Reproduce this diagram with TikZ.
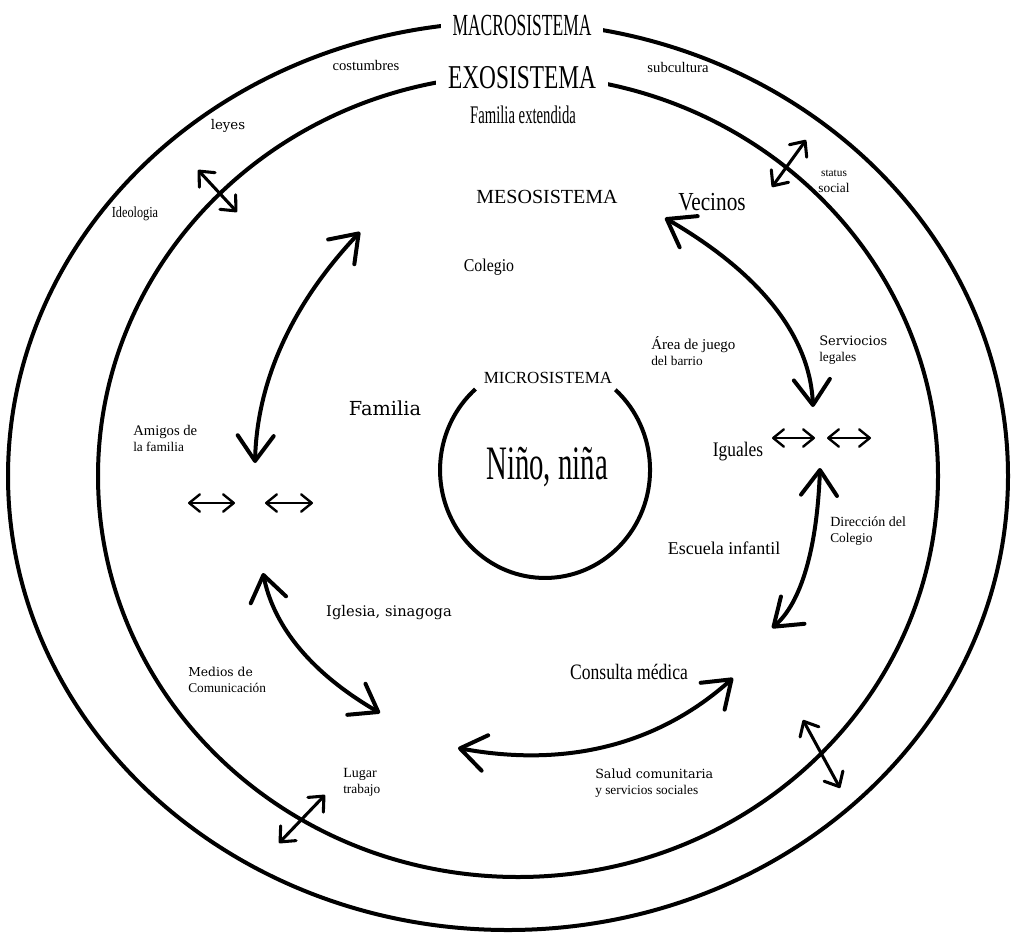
\documentclass[tikz,border=0pt]{standalone}
\usepackage{fontspec}
\setmainfont{Liberation Serif}
\newfontfamily\wideserif{DejaVu Serif}
\usetikzlibrary{arrows.meta}
\newcommand{\narrowtext}[2]{\scalebox{#1}[1]{#2}}

\begin{document}
\begin{tikzpicture}[x=0.75pt,y=0.75pt,yscale=-1,xscale=1,
  ring/.style={line width=3pt},
  bigarrow/.style={line width=3pt,line cap=round,{Straight Barb[length=19pt,width=27pt,round]}-{Straight Barb[length=19pt,width=27pt,round]}},
  crossarrow/.style={line width=2.3pt,line cap=round,{Straight Barb[length=9pt,width=16pt,round]}-{Straight Barb[length=9pt,width=16pt,round]}},
  linkarrow/.style={line width=1.8pt,{Straight Barb[length=8pt,width=13pt,round]}-{Straight Barb[length=8pt,width=13pt,round]}},
  lbl/.style={inner sep=0.75pt,align=left},
  sysname/.style={fill=white,inner xsep=9pt,inner ysep=3pt}
]
\useasboundingbox (0,0) rectangle (1016,935);

%Shape: Ellipse - macrosistema
\draw [ring] (508,476) ellipse (500 and 454);
%Shape: Ellipse - exosistema
\draw [ring] (518,476) ellipse (420 and 401);
%Shape: Arc - microsistema
\draw [ring] (615.3,389.7) arc [start angle=-48,end angle=228.5,x radius=105,y radius=108];

% Text Node
\draw (522,25) node (macro) [sysname] {\fontsize{23}{26}\selectfont\narrowtext{0.57}{MACROSISTEMA}};
% Text Node
\draw (522,78) node (exo) [sysname] {\fontsize{25}{28}\selectfont\narrowtext{0.7}{EXOSISTEMA}};
% Text Node
\draw (548,378) node (micro) [lbl] {\fontsize{12.75}{15}\selectfont MICROSISTEMA};
% Text Node
\draw (547,467) node (nino) [lbl] {\fontsize{36}{40}\selectfont\narrowtext{0.6}{Niño, niña}};
% Text Node
\draw (547,197) node (meso) [lbl] {\fontsize{15}{18}\selectfont MESOSISTEMA};
% Text Node
\draw (366,65) node (costumbres) [lbl] {\fontsize{11}{13}\selectfont costumbres};
% Text Node
\draw (678,67) node (subcultura) [lbl] {\fontsize{11}{13}\selectfont subcultura};
% Text Node
\draw (523,115) node (famext) [lbl] {\fontsize{19}{22}\selectfont\narrowtext{0.58}{Familia extendida}};
% Text Node
\draw (228,126) node (leyes) [lbl] {\fontsize{10}{12}\selectfont\wideserif leyes};
% Text Node
\draw (834,181) node (status) [lbl,align=center] {\fontsize{8.5}{12.75}\selectfont status\\social};
% Text Node
\draw (135,214) node (ideologia) [lbl] {\fontsize{11.5}{13}\selectfont\narrowtext{0.8}{Ideologia}};
% Text Node
\draw (712,202) node (vecinos) [lbl] {\fontsize{19.5}{22}\selectfont\narrowtext{0.82}{Vecinos}};
% Text Node
\draw (489,267) node (colegio) [lbl] {\fontsize{13.5}{16}\selectfont\narrowtext{0.88}{Colegio}};
% Text Node
\draw (650,351) node (area) [lbl,anchor=west] {\fontsize{11.25}{16}\selectfont Área de juego\\del barrio};
% Text Node
\draw (818,350) node (servicios) [lbl,anchor=west] {\fontsize{9.75}{14}\selectfont\wideserif Serviocios\\legales};
% Text Node
\draw (385,408) node (familia) [lbl] {\fontsize{14.5}{17}\selectfont\wideserif Familia};
% Text Node
\draw (132,438) node (amigos) [lbl,anchor=west] {\fontsize{11}{17}\selectfont Amigos de\\la familia};
% Text Node
\draw (738,452) node (iguales) [lbl] {\fontsize{15.5}{18}\selectfont\narrowtext{0.84}{Iguales}};
% Text Node
\draw (829,531) node (direccion) [lbl,anchor=west] {\fontsize{10.5}{15.5}\selectfont Dirección del\\Colegio};
% Text Node
\draw (724,548) node (escuela) [lbl] {\fontsize{13.5}{16}\selectfont Escuela infantil};
% Text Node
\draw (389,613) node (iglesia) [lbl] {\fontsize{11}{13}\selectfont\wideserif Iglesia, sinagoga};
% Text Node
\draw (187,680) node (medios) [lbl,anchor=west] {\fontsize{9.25}{11}\selectfont\wideserif Medios de\\Comunicación};
% Text Node
\draw (629,672) node (consulta) [lbl] {\fontsize{16.5}{19}\selectfont\narrowtext{0.8}{Consulta médica}};
% Text Node
\draw (342,782) node (lugar) [lbl,anchor=west] {\fontsize{10.5}{16}\selectfont Lugar\\trabajo};
% Text Node
\draw (594,783) node (salud) [lbl,anchor=west] {\fontsize{9.5}{13}\selectfont\wideserif Salud comunitaria\\y servicios sociales};

% Arrow end points
\coordinate (famA) at (255,463);
\coordinate (famB) at (360,232);
\coordinate (vecA) at (665,218);
\coordinate (vecB) at (813,407);
\coordinate (iguA) at (820,468);
\coordinate (iguB) at (772,628);
\coordinate (iglA) at (263,573);
\coordinate (iglB) at (380,713);
\coordinate (conA) at (458,748);
\coordinate (conB) at (733,678);

%Curve Lines
\draw [bigarrow] (famA) .. controls (257,381) and (292,304) .. (famB);
%Curve Lines
\draw [bigarrow] (vecA) .. controls (760,273) and (810,336) .. (vecB);
%Curve Lines
\draw [bigarrow] (iguA) .. controls (817,549) and (801,603) .. (iguB);
%Curve Lines
\draw [bigarrow] (iglA) .. controls (274,628) and (313,674) .. (iglB);
%Curve Lines
\draw [bigarrow] (conA) .. controls (566,768) and (658,745) .. (conB);

% Crossing arrows
\coordinate (leyA) at (198,170);
\coordinate (leyB) at (237,212);
\coordinate (staA) at (806,140);
\coordinate (staB) at (772,187);
\coordinate (lugA) at (325,795);
\coordinate (lugB) at (279,843);
\coordinate (salA) at (803,720);
\coordinate (salB) at (840,788);
%Straight Lines
\draw [crossarrow] (leyA) -- (leyB);
%Straight Lines
\draw [crossarrow] (staA) -- (staB);
%Straight Lines
\draw [crossarrow] (lugA) -- (lugB);
%Straight Lines
\draw [crossarrow] (salA) -- (salB);

% Small links
\coordinate (lkA) at (188,503);
\coordinate (lkB) at (235,503);
\coordinate (lkC) at (265,503);
\coordinate (lkD) at (313,503);
\coordinate (lkE) at (772,438);
\coordinate (lkF) at (815,438);
\coordinate (lkG) at (827,438);
\coordinate (lkH) at (871,438);
%Straight Lines
\draw [linkarrow] (lkA) -- (lkB);
\draw [linkarrow] (lkC) -- (lkD);
\draw [linkarrow] (lkE) -- (lkF);
\draw [linkarrow] (lkG) -- (lkH);

\end{tikzpicture}
\end{document}
